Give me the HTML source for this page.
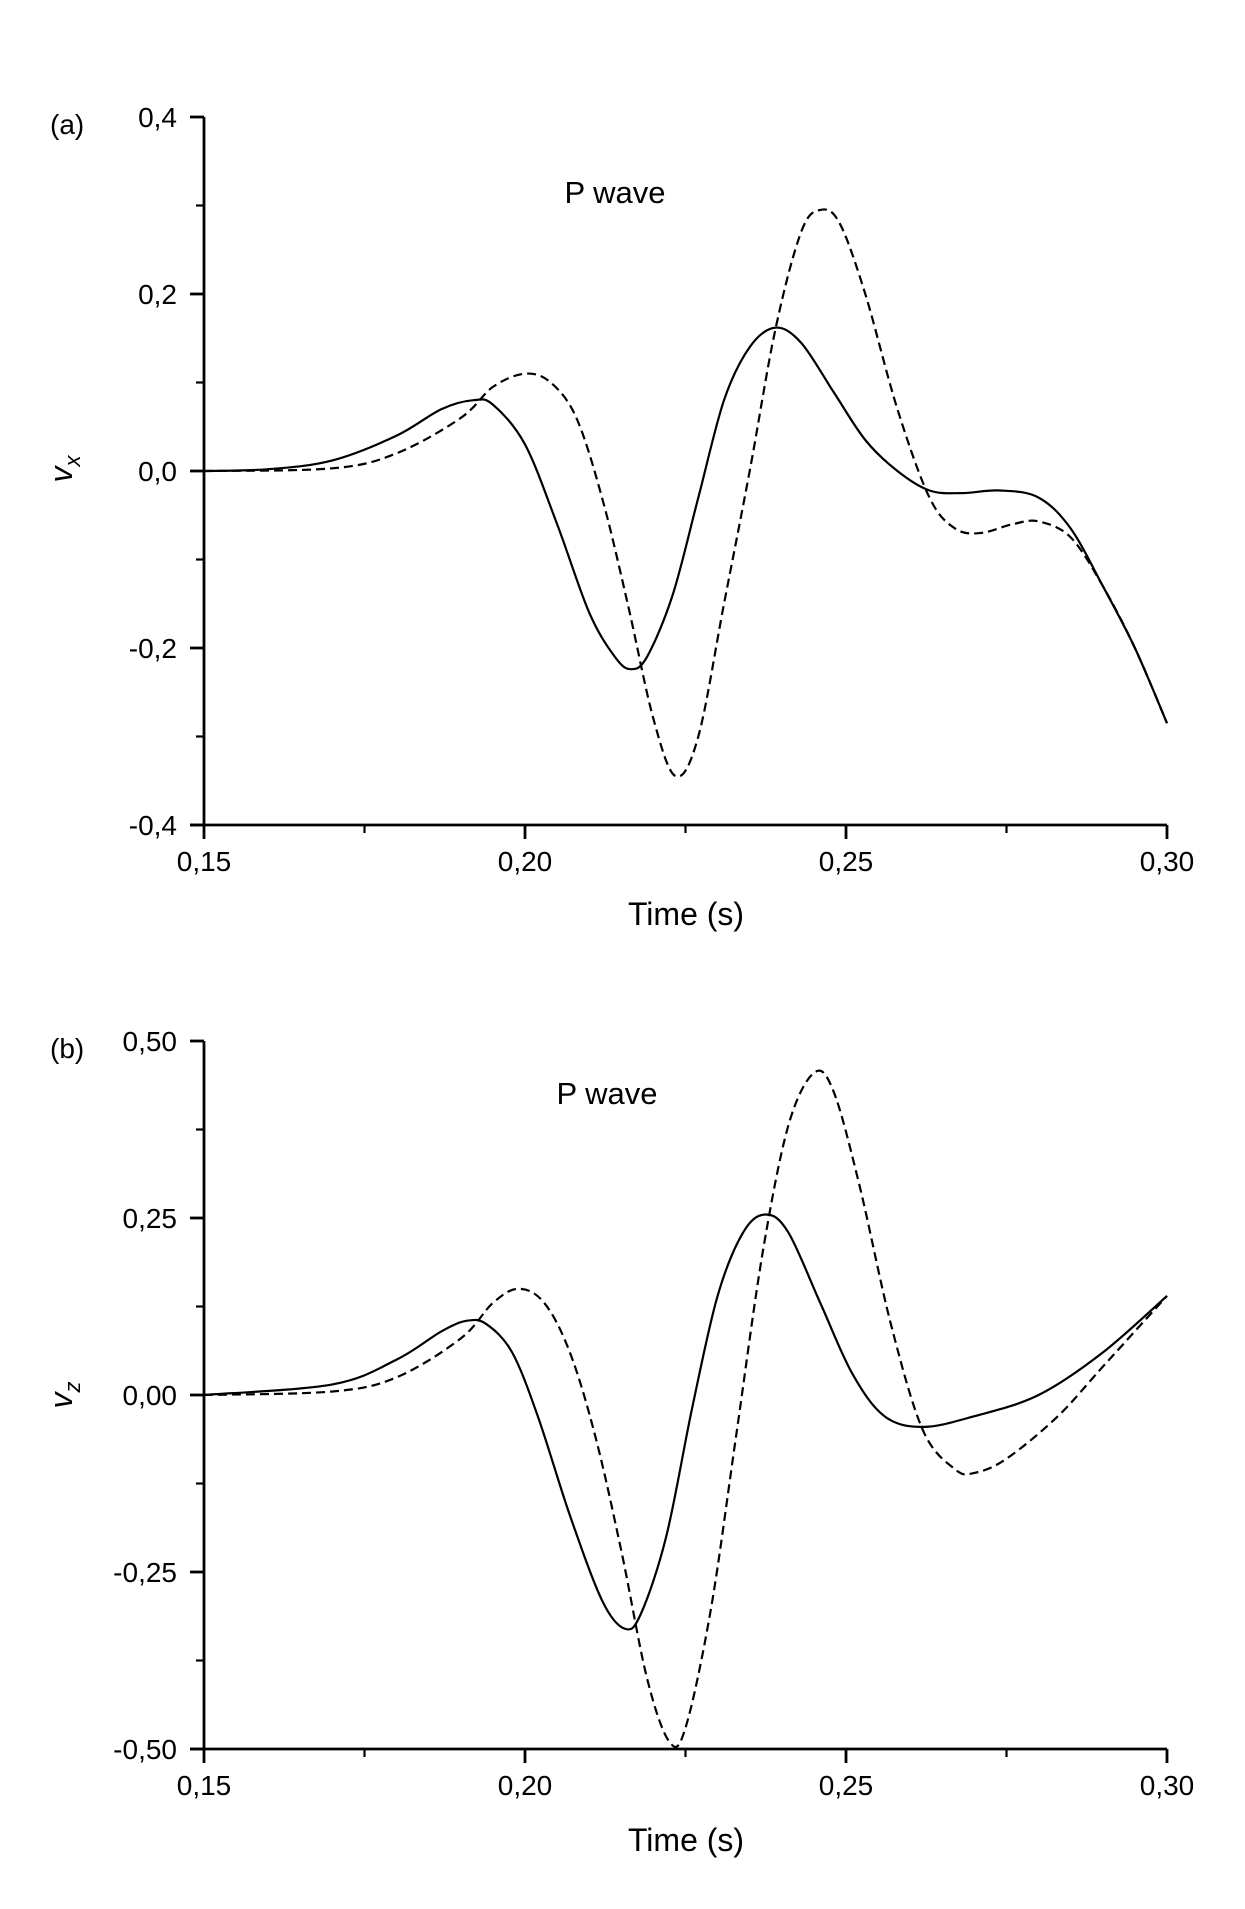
<!DOCTYPE html>
<html><head><meta charset="utf-8"><style>
html,body{margin:0;padding:0;background:#fff;}
svg{display:block;}
text{font-family:"Liberation Sans",Arial,sans-serif;fill:#000;}
</style></head><body>
<svg id="s" width="1245" height="1909" viewBox="0 0 1245 1909" xmlns="http://www.w3.org/2000/svg">
<g id="g"></g>
<text x="50" y="134" font-size="28">(a)</text>
<text x="615" y="203" font-size="31" text-anchor="middle">P wave</text>
<text x="686" y="925" font-size="32" text-anchor="middle">Time (s)</text>
<text transform="translate(72,469) rotate(-90)" font-size="32" font-style="italic" text-anchor="middle">v<tspan font-size="22" dy="8">x</tspan></text>
<text x="50" y="1058" font-size="28">(b)</text>
<text x="607" y="1104" font-size="31" text-anchor="middle">P wave</text>
<text x="686" y="1851" font-size="32" text-anchor="middle">Time (s)</text>
<text transform="translate(72,1395) rotate(-90)" font-size="32" font-style="italic" text-anchor="middle">v<tspan font-size="22" dy="8">z</tspan></text>
</svg>
<script>
const NS="http://www.w3.org/2000/svg",g=document.getElementById('g');
function el(t,a,txt){const e=document.createElementNS(NS,t);for(const k in a)e.setAttribute(k,a[k]);if(txt!=null)e.textContent=txt;g.appendChild(e);return e;}
const X0=204,X1=1167;
function panel(yTop,yBot,vmax,labels,lblFmt,solid,dashed){
 const sx=t=>X0+(t-0.15)/0.15*(X1-X0);
 const sy=v=>yTop+(vmax-v)/(2*vmax)*(yBot-yTop);
 el('line',{x1:X0,y1:yTop,x2:X0,y2:yBot,stroke:'#000','stroke-width':2.8});
 el('line',{x1:X0-14,y1:yBot,x2:X1,y2:yBot,stroke:'#000','stroke-width':2.8});
 const n=labels.length;
 for(let i=0;i<n;i++){const y=yTop+i*(yBot-yTop)/(n-1);
  el('line',{x1:X0-14,y1:y,x2:X0,y2:y,stroke:'#000','stroke-width':2.8});
  el('text',{x:X0-27,y:y+10,'font-size':28,'text-anchor':'end'},labels[i]);
  if(i<n-1){const ym=y+(yBot-yTop)/(n-1)/2;el('line',{x1:X0-8,y1:ym,x2:X0,y2:ym,stroke:'#000','stroke-width':2.2});}
 }
 const xl=['0,15','0,20','0,25','0,30'];
 for(let i=0;i<4;i++){const x=X0+i*(X1-X0)/3;
  el('line',{x1:x,y1:yBot,x2:x,y2:yBot+14,stroke:'#000','stroke-width':2.8});
  el('text',{x:x,y:yBot+46,'font-size':28,'text-anchor':'middle'},xl[i]);
  if(i<3){const xm=x+(X1-X0)/6;el('line',{x1:xm,y1:yBot,x2:xm,y2:yBot+8,stroke:'#000','stroke-width':2.2});}
 }
 function path(pts,dash){
  const P=[];for(let i=0;i<pts.length;i+=2)P.push([sx(pts[i]),sy(pts[i+1])]);
  let d='M'+P[0][0].toFixed(1)+','+P[0][1].toFixed(1);
  for(let i=0;i<P.length-1;i++){const p0=P[Math.max(i-1,0)],p1=P[i],p2=P[i+1],p3=P[Math.min(i+2,P.length-1)];
   const c1=[p1[0]+(p2[0]-p0[0])/6,p1[1]+(p2[1]-p0[1])/6],c2=[p2[0]-(p3[0]-p1[0])/6,p2[1]-(p3[1]-p1[1])/6];
   d+=' C'+c1.map(v=>v.toFixed(1))+' '+c2.map(v=>v.toFixed(1))+' '+p2.map(v=>v.toFixed(1));}
  const a={d:d,fill:'none',stroke:'#000','stroke-width':2.2};if(dash)a['stroke-dasharray']='9,5';el('path',a);
 }
 path(solid,false);path(dashed,true);
}
panel(117,825,0.4,['0,4','0,2','0,0','-0,2','-0,4'],null,
[0.15,0,0.16,0.002,0.17,0.012,0.18,0.04,0.187,0.07,0.192,0.08,0.195,0.075,0.2,0.03,0.205,-0.06,0.21,-0.16,0.214,-0.21,0.2165,-0.224,0.219,-0.21,0.223,-0.14,0.227,-0.03,0.231,0.08,0.235,0.14,0.239,0.162,0.243,0.145,0.248,0.09,0.253,0.035,0.258,0.0,0.263,-0.022,0.268,-0.025,0.274,-0.022,0.28,-0.03,0.285,-0.065,0.29,-0.13,0.295,-0.2,0.30,-0.285],
[0.15,0,0.17,0.003,0.18,0.02,0.19,0.06,0.195,0.095,0.2,0.11,0.204,0.1,0.208,0.06,0.212,-0.03,0.216,-0.15,0.22,-0.28,0.2235,-0.345,0.227,-0.3,0.231,-0.15,0.235,0.0,0.239,0.16,0.243,0.27,0.246,0.295,0.249,0.28,0.253,0.2,0.258,0.07,0.263,-0.03,0.267,-0.065,0.271,-0.07,0.276,-0.06,0.28,-0.057,0.285,-0.075,0.29,-0.13,0.295,-0.2,0.30,-0.285]);
panel(1041,1749,0.5,['0,50','0,25','0,00','-0,25','-0,50'],null,
[0.15,0,0.17,0.015,0.18,0.05,0.187,0.09,0.191,0.105,0.194,0.1,0.198,0.06,0.202,-0.03,0.207,-0.17,0.212,-0.29,0.2155,-0.33,0.218,-0.31,0.222,-0.2,0.226,-0.02,0.23,0.14,0.234,0.23,0.2375,0.255,0.241,0.23,0.246,0.13,0.251,0.03,0.256,-0.03,0.262,-0.045,0.27,-0.03,0.28,0.0,0.29,0.06,0.30,0.14],
[0.15,0,0.17,0.005,0.18,0.025,0.19,0.08,0.195,0.13,0.199,0.15,0.203,0.13,0.207,0.06,0.211,-0.06,0.215,-0.22,0.219,-0.4,0.2225,-0.49,0.225,-0.47,0.229,-0.3,0.233,-0.05,0.237,0.2,0.241,0.38,0.245,0.455,0.248,0.43,0.252,0.3,0.257,0.1,0.262,-0.05,0.267,-0.105,0.27,-0.11,0.275,-0.09,0.283,-0.03,0.29,0.04,0.30,0.14]);
</script>
</body></html>
